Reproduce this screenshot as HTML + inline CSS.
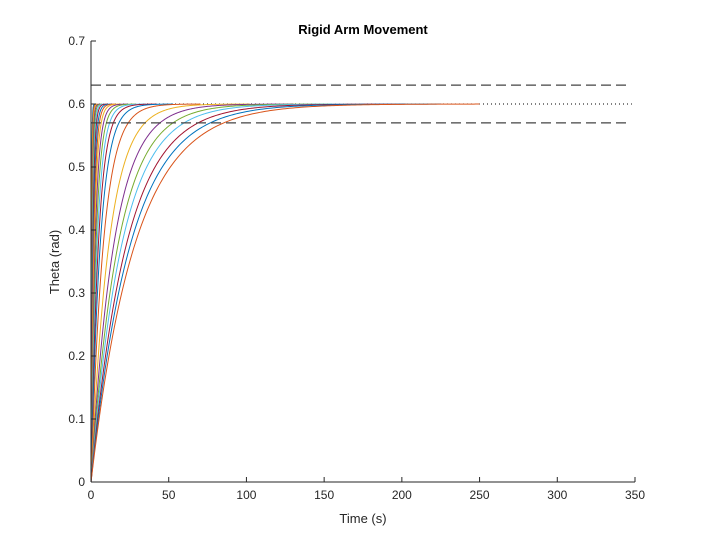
<!DOCTYPE html>
<html><head><meta charset="utf-8"><style>
body{margin:0;background:#fff;font-family:"Liberation Sans",Arial,sans-serif}
svg text{font-family:"Liberation Sans",Arial,sans-serif}
</style></head><body>
<svg id="chart" width="703" height="542" xmlns="http://www.w3.org/2000/svg">
<rect width="703" height="542" fill="#fff"/>
<text x="363" y="34" text-anchor="middle" font-size="13" font-weight="bold" fill="#000">Rigid Arm Movement</text>
<g id="plot"></g>
<g id="axes"></g>
<text x="363" y="523" text-anchor="middle" font-size="13" fill="#262626">Time (s)</text>
<text transform="translate(59,262) rotate(-90)" text-anchor="middle" font-size="13" fill="#262626">Theta (rad)</text>
</svg>
<script>
const taus = [0.3,0.4,0.5,0.65,0.8,1,1.2,1.5,1.8,2.2,2.7,3.3,4,4.8,6,8,11.6,14.8,17.6,20,23,25.6,28.5];
const finalValue = [0.6];
const bandValues = [0.63, 0.57];
const xTicks = [0,50,100,150,200,250,300,350];
const yTicks = [0,0.1,0.2,0.3,0.4,0.5,0.6,0.7];
const colors = ['#0072BD','#D95319','#EDB120','#7E2F8E','#77AC30','#4DBEEE','#A2142F'];
const X0=91,X1=635,Y0=482,Y1=41;
const xs = t => X0 + t/350*(X1-X0);
const ys = v => Y0 - v/0.7*(Y0-Y1);
const NS='http://www.w3.org/2000/svg';
const plot=document.getElementById('plot'), axes=document.getElementById('axes');
function mk(tag,attrs,parent){const e=document.createElementNS(NS,tag);for(const k in attrs)e.setAttribute(k,attrs[k]);parent.appendChild(e);return e;}
const dotted=mk('line',{x1:xs(0),x2:xs(348),y1:ys(finalValue[0]),y2:ys(finalValue[0]),stroke:'#000','stroke-width':1,'stroke-dasharray':'1 3'},plot);


taus.forEach((tau,i)=>{
  const end=Math.min(tau*8.8,250);
  let d='';
  const N=200;
  for(let k=0;k<=N;k++){const t=end*k/N;const v=finalValue[0]*(1-Math.exp(-t/tau));d+=(k?'L':'M')+xs(t).toFixed(2)+','+ys(v).toFixed(2);}
  const p=mk('path',{d:d,fill:'none',stroke:colors[i%7],'stroke-width':1},plot);
  
  
});
bandValues.forEach((v,i)=>{
  const l=mk('line',{x1:xs(0),x2:xs(346),y1:ys(v),y2:ys(v),stroke:'#444','stroke-width':1.2,'stroke-dasharray':'10 5'},plot);
  
  
});
const xa=mk('line',{x1:X0,x2:X1,y1:Y0,y2:Y0,stroke:'#262626','stroke-width':1},axes);


const ya=mk('line',{x1:X0,x2:X0,y1:Y0,y2:Y1,stroke:'#262626','stroke-width':1},axes);


xTicks.forEach(t=>{
  mk('line',{x1:xs(t),x2:xs(t),y1:Y0,y2:Y0-5,stroke:'#262626'},axes);
  const tx=mk('text',{x:xs(t),y:Y0+17,'text-anchor':'middle','font-size':12,fill:'#262626'},axes);
  tx.textContent=t;
  
  
});
yTicks.forEach(v=>{
  mk('line',{x1:X0,x2:X0+5,y1:ys(v),y2:ys(v),stroke:'#262626'},axes);
  const tx=mk('text',{x:X0-6,y:ys(v)+4,'text-anchor':'end','font-size':12,fill:'#262626'},axes);
  tx.textContent=v===0?'0':v.toFixed(1);
  
  
});
</script>
</body></html>
